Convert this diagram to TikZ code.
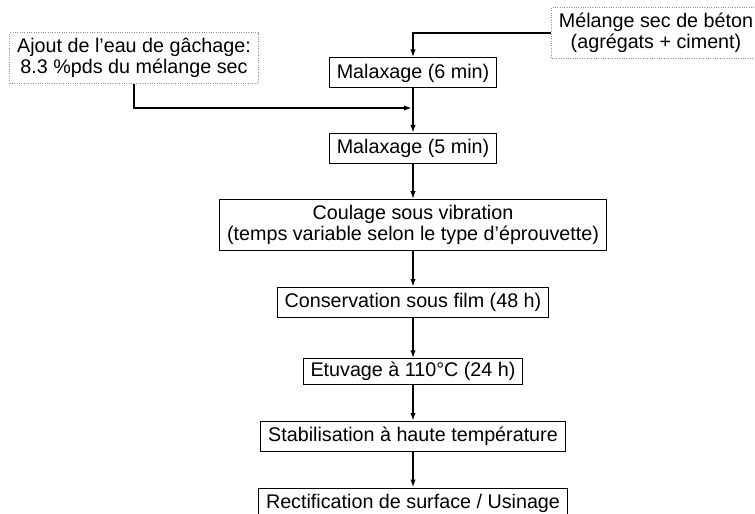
\documentclass[tikz,border=0pt]{standalone}
\usepackage{fontspec}
\setmainfont{Liberation Sans}
\usetikzlibrary{arrows.meta}
\tikzset{
  stepbox/.style = {draw, line width = 0.75pt, align = center, inner xsep = 5.5pt,
    inner ysep = 4.2pt, minimum height = 22.5pt, font = \fontsize{14.8}{15.8}\selectfont},
  inbox/.style = {stepbox, draw = gray!85, densely dotted},
  flow/.style = {line width = 1.5pt, -{Latex[length = 6pt, width = 4pt]}}
}
\begin{document}
\begin{tikzpicture} [x = 0.75pt, y = -0.75pt]
    \clip (0,0) rectangle (755,513);
    \fill [white] (0,0) rectangle (755,513);
    % inputs
    \node [inbox] (ajout) at (134,58) {Ajout de l’eau de gâchage:\\8.3 \%pds du mélange sec};
    \node [inbox] (melange) at (656,33) {Mélange sec de béton\\(agrégats + ciment)};
    % process steps
    \node [stepbox] (mal6) at (413,73) {Malaxage (6 min)};
    \node [stepbox] (mal5) at (413,148.5) {Malaxage (5 min)};
    \node [stepbox] (coulage) at (413,225) {Coulage sous vibration\\(temps variable selon le type d’éprouvette)};
    \node [stepbox] (film) at (413,302.5) {Conservation sous film (48 h)};
    \node [stepbox, minimum height = 18.75pt, inner ysep = 2.5pt] (etuv) at (413,371.5) {Etuvage à 110°C (24 h)};
    \node [stepbox] (stab) at (413,436.5) {Stabilisation à haute température};
    \node [stepbox] (rect) at (413,503) {Rectification de surface / Usinage};
    \coordinate (eau) at (412,108);
    % connectors
    \draw [flow] (melange.west) -| (mal6.north);
    \draw [flow] (ajout.south) |- (eau);
    \draw [flow] (mal6) -- (mal5);
    \draw [flow] (mal5) -- (coulage);
    \draw [flow] (coulage) -- (film);
    \draw [flow] (film) -- (etuv);
    \draw [flow] (etuv) -- (stab);
    \draw [flow] (stab) -- (rect);
\end{tikzpicture}
\end{document}
